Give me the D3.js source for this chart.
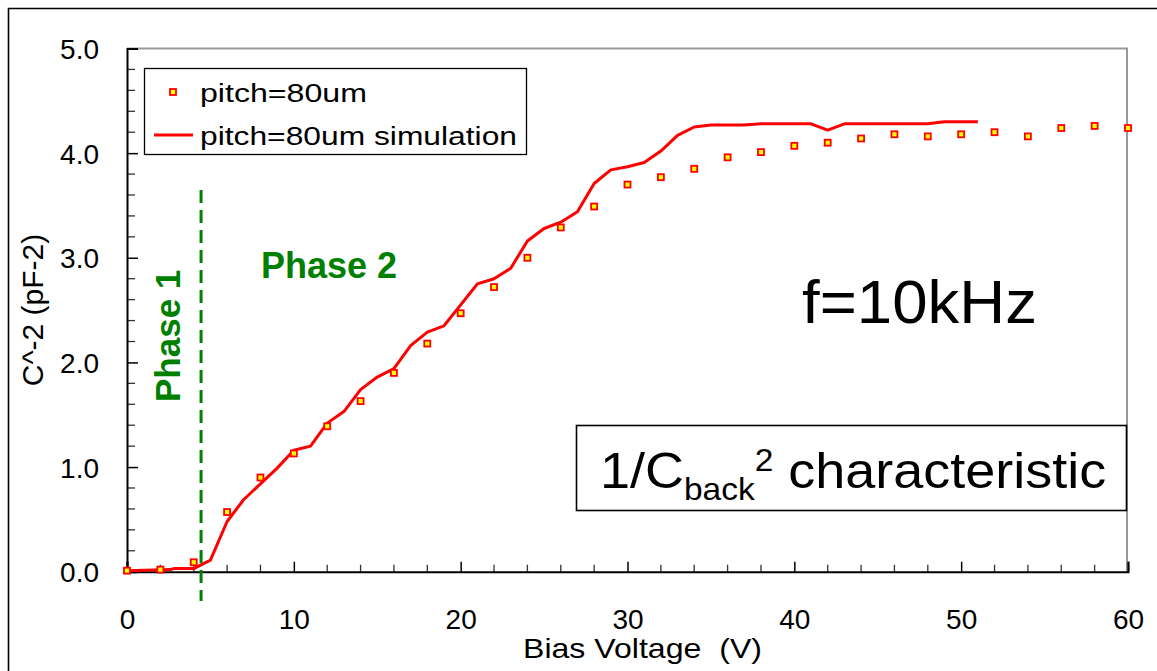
<!DOCTYPE html>
<html lang="en">
  <head>
    <meta charset="UTF-8" />
    <title>1/C^2 characteristic</title>
    <style>
      body { margin: 0; background: #fff; }
      svg { display: block; font-family: 'Liberation Sans', Arial, sans-serif; }
      .tick text { font-size: 28px; fill: #000; }
    </style>
  </head>
  <body>
    <svg width="1157" height="671"></svg>
    <script src="https://d3js.org/d3.v7.min.js"></script>
    <script>
      // measured points (bias voltage in V, C^-2 in pF^-2)
      const measV = [0, 2, 4, 6, 8, 10, 12, 14, 16, 18, 20, 22, 24, 26, 28, 30, 32, 34, 36, 38,
        40, 42, 44, 46, 48, 50, 52, 54, 56, 58, 60];
      const measY = [0.01, 0.02, 0.09, 0.57, 0.90, 1.13, 1.39, 1.63, 1.90, 2.18, 2.47, 2.72, 3.00,
        3.29, 3.49, 3.70, 3.77, 3.85, 3.96, 4.01, 4.07, 4.10, 4.14, 4.18, 4.16, 4.18, 4.20, 4.16,
        4.24, 4.26, 4.24];

      // simulation curve
      const simV = [0, 2.6, 2.8, 4, 5, 6, 7, 8, 9, 10, 11, 12, 13, 14, 15, 16, 17, 18, 19, 20, 21,
        22, 23, 24, 25, 26, 27, 28, 29, 30, 31, 32, 33, 34, 35, 37, 38, 41, 42, 43, 48, 49, 51];
      const simY = [0.01, 0.02, 0.03, 0.03, 0.11, 0.48, 0.69, 0.84, 0.99, 1.16, 1.20, 1.42, 1.53,
        1.74, 1.86, 1.94, 2.16, 2.29, 2.35, 2.55, 2.75, 2.80, 2.90, 3.16, 3.28, 3.34, 3.44, 3.71,
        3.84, 3.87, 3.91, 4.02, 4.17, 4.25, 4.27, 4.27, 4.28, 4.28, 4.22, 4.28, 4.28, 4.30, 4.30];

      const xTicks = [0, 10, 20, 30, 40, 50, 60];
      const yTicks = [0, 1, 2, 3, 4, 5];
      const seriesNames = ['pitch=80um', 'pitch=80um simulation'];
      const phaseV = 4.44; // phase 1 / phase 2 boundary

      const svg = d3.select('svg');
      const red = '#ff0000', green = '#008000';

      const x = d3.scaleLinear().domain([0, 60]).range([127, 1128]);
      const y = d3.scaleLinear().domain([0, 5]).range([571.7, 48.5]);

      // outer frame
      svg.append('path')
        .attr('d', 'M8.5,671V8.5H1157')
        .attr('fill', 'none')
        .attr('stroke', '#000')
        .attr('stroke-width', 1.6);

      // plot frame (top / right in grey)
      svg.append('path')
        .attr('d', `M${x(0)},${y(5)}H${x(60) - 1}V${y(0)}`)
        .attr('fill', 'none')
        .attr('stroke', '#999')
        .attr('stroke-width', 2);

      // minor ticks
      const minorX = d3.range(0, 61, 2).filter((d) => d % 10 !== 0);
      const minorY = d3.range(0, 5.01, 0.2).filter((d) => Math.abs(d - Math.round(d)) > 0.01);

      svg.append('g')
        .selectAll('line.mx')
        .data(minorX)
        .join('line')
        .attr('x1', (d) => x(d)).attr('x2', (d) => x(d))
        .attr('y1', y(0)).attr('y2', y(0) - 7)
        .attr('stroke', '#333').attr('stroke-width', 1.3);

      svg.append('g')
        .selectAll('line.my')
        .data(minorY)
        .join('line')
        .attr('x1', x(0)).attr('x2', x(0) + 8)
        .attr('y1', (d) => y(d)).attr('y2', (d) => y(d))
        .attr('stroke', '#333').attr('stroke-width', 1.3);

      // axes
      const xAxis = svg.append('g')
        .attr('transform', `translate(0,${y(0)})`)
        .call(d3.axisTop(x).tickValues(xTicks).tickSize(10).tickFormat(d3.format('d')));
      xAxis.selectAll('.tick text').attr('y', 57).attr('dy', 0);

      const yAxis = svg.append('g')
        .attr('transform', `translate(${x(0)},0)`)
        .call(d3.axisRight(y).tickValues(yTicks).tickSize(11).tickFormat(d3.format('.1f')));
      yAxis.selectAll('.tick text')
        .attr('text-anchor', 'end')
        .attr('x', -28)
        .attr('dy', '0.36em');

      svg.selectAll('.domain').attr('stroke', '#000').attr('stroke-width', 2);
      svg.selectAll('.tick line').attr('stroke', '#000').attr('stroke-width', 1.5);

      // axis titles
      svg.append('text')
        .attr('x', 523).attr('y', 658)
        .attr('textLength', 239).attr('lengthAdjust', 'spacingAndGlyphs')
        .attr('font-size', 28)
        .style('white-space', 'pre')
        .text('Bias Voltage  (V)');

      svg.append('text')
        .attr('transform', 'translate(43,310) rotate(-90)')
        .attr('text-anchor', 'middle')
        .attr('font-size', 30)
        .text('C^-2 (pF-2)');

      // phase boundary
      svg.append('line')
        .attr('x1', x(phaseV)).attr('x2', x(phaseV))
        .attr('y1', 190).attr('y2', 601)
        .attr('stroke', green).attr('stroke-width', 3)
        .attr('stroke-dasharray', '13,7');

      svg.append('text')
        .attr('x', 261).attr('y', 278)
        .attr('font-size', 36).attr('font-weight', 'bold')
        .attr('fill', green)
        .text('Phase 2');

      svg.append('text')
        .attr('transform', 'translate(180,402) rotate(-90)')
        .attr('font-size', 35).attr('font-weight', 'bold')
        .attr('fill', green)
        .text('Phase 1');

      // simulation line
      const line = d3.line().x((d) => x(d[0])).y((d) => y(d[1]));
      svg.append('path')
        .datum(simV.map((v, i) => [v, simY[i]]))
        .attr('d', line)
        .attr('fill', 'none')
        .attr('stroke', red)
        .attr('stroke-width', 3)
        .attr('stroke-linejoin', 'round');

      // measured markers
      svg.append('g')
        .selectAll('rect')
        .data(measV.map((v, i) => [v, measY[i]]))
        .join('rect')
        .attr('x', (d) => x(d[0]) - 3)
        .attr('y', (d) => y(d[1]) - 3)
        .attr('width', 6).attr('height', 6)
        .attr('fill', '#ffff00')
        .attr('stroke', red)
        .attr('stroke-width', 1.8);

      // legend
      const lg = svg.append('g');
      lg.append('rect')
        .attr('x', 144.5).attr('y', 68.5)
        .attr('width', 382).attr('height', 86)
        .attr('fill', '#fff').attr('stroke', '#000').attr('stroke-width', 1.3);
      lg.append('rect')
        .attr('x', 170).attr('y', 89).attr('width', 6).attr('height', 6)
        .attr('fill', '#ffff00').attr('stroke', red).attr('stroke-width', 1.8);
      lg.append('line')
        .attr('x1', 154).attr('x2', 193).attr('y1', 135).attr('y2', 135)
        .attr('stroke', red).attr('stroke-width', 3);
      lg.selectAll('text')
        .data(seriesNames)
        .join('text')
        .attr('x', 200)
        .attr('y', (d, i) => 102 + i * 43)
        .attr('font-size', 26)
        .attr('textLength', (d, i) => (i === 0 ? 167 : 317))
        .attr('lengthAdjust', 'spacingAndGlyphs')
        .text((d) => d);

      // annotations
      svg.append('text')
        .attr('x', 802).attr('y', 323)
        .attr('font-size', 61)
        .attr('textLength', 235).attr('lengthAdjust', 'spacingAndGlyphs')
        .text('f=10kHz');

      svg.append('rect')
        .attr('x', 576.5).attr('y', 425.5)
        .attr('width', 550).attr('height', 85)
        .attr('fill', '#fff').attr('stroke', '#000').attr('stroke-width', 1.6);

      const ann = svg.append('text')
        .attr('transform', 'translate(600,488) scale(1.08,1)')
        .attr('font-size', 50);
      ann.append('tspan').text('1/C');
      ann.append('tspan').attr('font-size', 31).attr('dy', 12).text('back');
      ann.append('tspan').attr('font-size', 31).attr('dy', -29).text('2');
      ann.append('tspan').attr('dy', 17).text(' characteristic');
    </script>
  </body>
</html>
